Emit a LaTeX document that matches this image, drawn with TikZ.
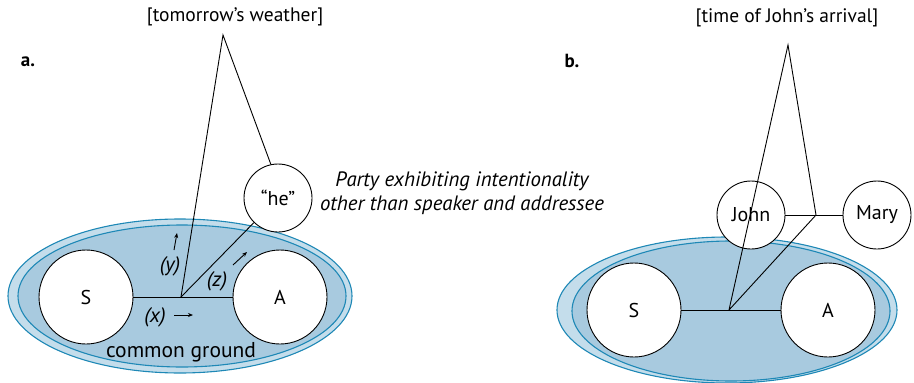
\documentclass[tikz,border=0pt]{standalone}
\usepackage{fontspec}
\setmainfont{PT Sans}
\usetikzlibrary{arrows.meta}
\definecolor{cglight}{RGB}{196,221,235}
\definecolor{cgdark}{RGB}{168,202,223}
\definecolor{cgedge}{RGB}{30,136,182}
\tikzset{
  party/.style={circle,draw=black,fill=white,line width=0.9pt,inner sep=0pt,font=\fontsize{20}{23}\selectfont},
  bigparty/.style={party,minimum size=94pt},
  smallparty/.style={party,minimum size=68pt},
  cgouter/.style={fill=cglight,draw=cgedge,line width=1.1pt},
  cginner/.style={fill=cgdark,draw=cgedge,line width=1.1pt},
  link/.style={draw=black,line width=0.9pt},
  dirarrow/.style={-{Stealth[length=5pt,width=4pt]},line width=0.9pt},
  lbl/.style={font=\fontsize{19.5}{23}\selectfont,inner sep=0pt},
  cglbl/.style={font=\fontsize{21.5}{25}\selectfont,inner sep=0pt},
  ilbl/.style={font=\fontsize{21}{25}\selectfont\itshape,inner sep=0pt},
  ptext/.style={font=\fontsize{20.8}{24.5}\selectfont\itshape,inner sep=0pt},
  panel/.style={font=\fontsize{19}{22}\selectfont\bfseries,inner sep=0pt}
}
\begin{document}
\begin{tikzpicture}[x=1pt,y=-1pt]
\useasboundingbox (0,0) rectangle (914,383);
% ---------- panel a ----------
\node[panel] (pa) at (28,62) {a.};
\node[lbl] (topica) at (235,17) {[tomorrow’s weather]};
\draw[cgouter] (180,296) ellipse [x radius=172pt, y radius=77pt];
\draw[cginner] (182,296) ellipse [x radius=164pt, y radius=71pt];
\node[bigparty] (S1) at (86,297) {S};
\node[bigparty] (A1) at (280,297) {A};
\node[smallparty] (he) at (278,198) {“he”};
\coordinate (apex1) at (223,35);
\coordinate (v1) at (181,297);
\draw[link] (S1.east) -- (A1.west);
\draw[link] (v1) -- (apex1) -- (he.102);
\draw[link] (v1) -- (he);
\node[ilbl] (yl) at (170,266) {(y)};
\node[ilbl] (zl) at (217,281) {(z)};
\node[ilbl] (xl) at (155,317) {(x)};
\coordinate (ya) at (174,250); \coordinate (yb) at (177,233);
\coordinate (za) at (233,265); \coordinate (zb) at (247,252);
\coordinate (xa) at (174,315); \coordinate (xb) at (193,315);
\draw[dirarrow] (ya) -- (yb);
\draw[dirarrow] (za) -- (zb);
\draw[dirarrow] (xa) -- (xb);
\node[cglbl] (cg) at (181,352) {common ground};
\node[ptext,align=center] (partytext) at (462,193) {Party exhibiting intentionality\\other than speaker and addressee};
% ---------- panel b ----------
\node[panel] (pb) at (572,61) {b.};
\node[lbl] (topicb) at (787,18) {[time of John’s arrival]};
\draw[cgouter] (727,310) ellipse [x radius=170pt, y radius=73pt];
\draw[cginner] (731,311) ellipse [x radius=159pt, y radius=70pt];
\node[bigparty] (S2) at (634,310) {S};
\node[bigparty] (A2) at (828,310) {A};
\node[smallparty] (john) at (751,215) {John};
\node[smallparty] (mary) at (877,215) {Mary};
\coordinate (apex2) at (788,45);
\coordinate (j2) at (816,215);
\coordinate (v2) at (729,310);
\draw[link] (S2.east) -- (A2.west);
\draw[link] (john.east) -- (mary.west);
\draw[link] (v2) -- (apex2) -- (j2) -- (v2);
\end{tikzpicture}
\end{document}
